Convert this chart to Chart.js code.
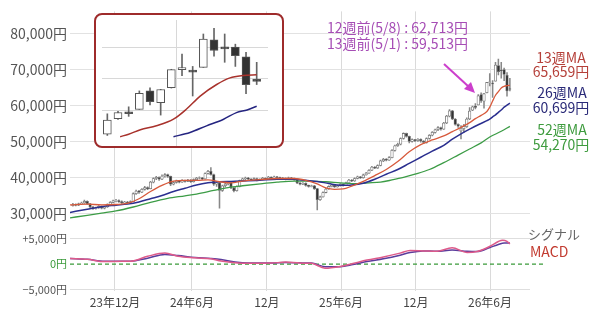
<!DOCTYPE html>
<html lang="ja">
<head>
<meta charset="utf-8">
<script src="https://cdn.jsdelivr.net/npm/chart.js@4.4.1/dist/chart.umd.min.js"></script>
<style>
html, body { margin: 0; padding: 0; background: #fff; }
#wrap { position: relative; width: 600px; height: 323px; overflow: hidden;
        font-family: "Noto Sans CJK JP", "Noto Sans", sans-serif; }
#main { position: absolute; left: 0; top: 0; }
#insetBox { position: absolute; left: 94px; top: 13px; width: 190px; height: 135px;
            box-sizing: border-box; border: 2px solid #9e2b2b; border-radius: 8px; background: #fff; }
#insetCv { position: absolute; left: 102px; top: 20px; }
.lbl { position: absolute; transform: translate(-50%, -50%); white-space: nowrap;
       font-size: 14px; line-height: 1; }
.note { position: absolute; white-space: nowrap; font-size: 14px; line-height: 1;
        color: #a64db5; transform: translateY(-50%); }
.side { position: absolute; white-space: nowrap; line-height: 1; transform: translateY(-50%); }
#arrow { position: absolute; left: 0; top: 0; }
</style>
</head>
<body>
<div id="wrap">
  <canvas id="main" width="600" height="323"></canvas>
  <div id="insetBox"></div>
  <canvas id="insetCv" width="166" height="126"></canvas>

  <div class="note" style="left:327px;top:27px">12週前(5/8) : 62,713円</div>
  <div class="note" style="left:327px;top:43px">13週前(5/1) : 59,513円</div>
  <svg id="arrow" width="600" height="323">
    <line x1="444" y1="64" x2="469" y2="87" stroke="#cc3fcc" stroke-width="2"/>
    <polygon points="475,93 464,89 471,82" fill="#cc3fcc"/>
  </svg>

  <div class="lbl" style="left:561px;top:57px;color:#b5403a">13週MA</div>
  <div class="lbl" style="left:561px;top:71px;color:#b5403a">65,659円</div>
  <div class="lbl" style="left:562px;top:92px;color:#2a2a78">26週MA</div>
  <div class="lbl" style="left:561px;top:107px;color:#2a2a78">60,699円</div>
  <div class="lbl" style="left:562px;top:129px;color:#3e9b3e">52週MA</div>
  <div class="lbl" style="left:561px;top:144px;color:#3e9b3e">54,270円</div>
  <div class="side" style="left:528px;top:233px;font-size:13px;color:#666">シグナル</div>
  <div class="side" style="left:530px;top:251px;font-size:14px;color:#c23b30">MACD</div>
</div>

<script>
// 週足ローソク + 13/26/52週MA + MACD。横軸は週番号(w)、1週 ≒ 2.9px。
(function () {
    "use strict";

    Chart.defaults.font.family = '"Noto Sans CJK JP", "Noto Sans", sans-serif';

    // 目盛り
    var MONTH_POS = [15.65, 42.4, 68.5, 94.3, 120.3, 146.1];
    var MONTH_LABELS = ["23年12月", "24年6月", "12月", "25年6月", "12月", "26年6月"];
    var PRICE_TICKS = [30000, 40000, 50000, 60000, 70000, 80000];
    var MACD_TICKS = [-5000, 0, 5000];
    var INSET_TICKS = [60000, 65000, 70000];
    var INSET_VLINE = [145.5];

    // 週足 (w = FIRST_WEEK + i)
    var FIRST_WEEK = 1;
    var OPEN = [
        32300, 32600, 32400, 32800, 33000, 33500, 32800, 31900, 31500, 31700,
        32100, 31600, 31900, 32600, 33200, 33600, 33700, 33400, 33100, 33300,
        33000, 33400, 35600, 36300, 36000, 36800, 37300, 37000, 38800, 39800,
        40100, 39600, 40500, 40900, 40400, 38200, 38700, 39100, 38800, 39300,
        39000, 39400, 38900, 39500, 39900, 40000, 39700, 41200, 41800, 40900,
        38200, 38600, 36500, 37800, 38300, 38700, 37200, 36400, 37600, 39200,
        39700, 39900, 39600, 39400, 39800, 39300, 39500, 39900, 39700, 40200,
        39800, 40300, 40100, 39700, 39900, 39600, 40000, 39800, 39500, 38600,
        38200, 38500, 37900, 37600, 37800, 37000, 33900, 34700, 35900, 36900,
        37600, 37900, 37500, 37800, 38200, 37900, 38600, 39400, 39100, 39800,
        40300, 40000, 40800, 41300, 42100, 43000, 42700, 43400, 44700, 45100,
        44900, 45600, 47600, 48900, 49300, 50900, 52300, 51500, 50100, 50600,
        50300, 50700, 50200, 49800, 50900, 51800, 52600, 53300, 53900, 53500,
        55200, 57100, 58600, 56300, 54800, 53000, 53600, 54200, 56300, 58750,
        59800, 60200, 63100, 61250, 63600, 66450, 66150, 66800, 71150, 69800,
        70000, 68450, 64700
    ];
    var HIGH = [
        32900, 32800, 33000, 33300, 33800, 33600, 32900, 32100, 31900, 32300,
        32200, 32100, 32800, 33400, 33800, 34000, 33900, 33600, 33500, 33500,
        33600, 35800, 36600, 36500, 37000, 37600, 37500, 39000, 40000, 40400,
        40300, 40800, 41200, 41000, 40500, 39000, 39400, 39300, 39500, 39400,
        39600, 39500, 39700, 40100, 40300, 40100, 41400, 42100, 42800, 41000,
        38900, 38800, 38000, 38500, 38900, 38800, 37400, 37800, 39400, 39900,
        40200, 40100, 39800, 40000, 39900, 39700, 40100, 40000, 40400, 40300,
        40500, 40400, 40200, 40100, 40000, 40200, 40100, 39900, 39600, 38700,
        38700, 38600, 38000, 38000, 37900, 37100, 34900, 36100, 37100, 37800,
        38100, 38000, 38000, 38400, 38300, 38800, 39600, 39500, 40000, 40500,
        40400, 41000, 41500, 42300, 43200, 43100, 43600, 44900, 45400, 45300,
        45900, 47800, 49100, 49600, 51100, 52500, 52400, 51600, 50800, 50700,
        50900, 50800, 50300, 51100, 52000, 52800, 53500, 54200, 54100, 55400,
        57300, 58900, 58700, 56400, 55000, 54500, 54800, 56600, 59500, 59900,
        60600, 63100, 63600, 63350, 66500, 68900, 66950, 72050, 72950, 72050,
        70450, 69150, 67600
    ];
    var LOW = [
        32100, 32200, 32300, 32600, 32900, 32600, 31700, 31200, 31300, 31500,
        31400, 31400, 31800, 32500, 33000, 33300, 33200, 32900, 32900, 32800,
        32900, 33300, 35400, 35700, 35900, 36600, 36700, 36900, 38600, 39500,
        39300, 39500, 40200, 40100, 37800, 38000, 38500, 38600, 38700, 38800,
        38900, 38700, 38800, 39300, 39700, 39500, 39600, 41000, 40700, 37900,
        37600, 31600, 36200, 37500, 38000, 37000, 36100, 36300, 37500, 39000,
        39500, 39400, 39200, 39300, 39100, 39200, 39400, 39500, 39600, 39600,
        39700, 39900, 39500, 39600, 39400, 39500, 39600, 39300, 38400, 38000,
        38100, 37700, 37400, 37500, 36800, 31100, 33700, 34600, 35800, 36800,
        37500, 37300, 37400, 37700, 37700, 37800, 38500, 38900, 39000, 39700,
        39800, 39900, 40700, 41200, 42000, 42500, 42600, 43300, 44500, 44700,
        44800, 45500, 47400, 48700, 49100, 50700, 51300, 49700, 49900, 50000,
        50100, 49900, 49500, 49600, 50700, 51600, 52400, 53100, 53200, 53400,
        55000, 56900, 56100, 54600, 54000, 50800, 52600, 54000, 56100, 58600,
        59100, 60200, 60900, 59300, 63550, 65500, 62300, 66800, 68550, 67600,
        66950, 62650, 64100
    ];
    var CLOSE = [
        32600, 32400, 32800, 33000, 33500, 32800, 31900, 31500, 31700, 32100,
        31600, 31900, 32600, 33200, 33600, 33700, 33400, 33100, 33300, 33000,
        33400, 35600, 36300, 36000, 36800, 37300, 37000, 38800, 39800, 40100,
        39600, 40500, 40900, 40400, 38200, 38700, 39100, 38800, 39300, 39000,
        39400, 38900, 39500, 39900, 40000, 39700, 41200, 41800, 40900, 38200,
        38600, 36500, 37800, 38300, 38700, 37200, 36400, 37600, 39200, 39700,
        39900, 39600, 39400, 39800, 39300, 39500, 39900, 39700, 40200, 39800,
        40300, 40100, 39700, 39900, 39600, 40000, 39800, 39500, 38600, 38200,
        38500, 37900, 37600, 37800, 37000, 33900, 34700, 35900, 36900, 37600,
        37900, 37500, 37800, 38200, 37900, 38600, 39400, 39100, 39800, 40300,
        40000, 40800, 41300, 42100, 43000, 42700, 43400, 44700, 45100, 44900,
        45600, 47600, 48900, 49300, 50900, 52300, 51500, 50100, 50600, 50300,
        50700, 50200, 49800, 50900, 51800, 52600, 53300, 53900, 53500, 55200,
        57100, 58600, 56300, 54800, 54300, 53600, 54200, 56300, 58500, 59700,
        59513, 62713, 61400, 63330, 66450, 66600, 66050, 71250, 69450, 69700,
        68650, 64100, 64600
    ];

    // 移動平均 [w, 円]
    var MA13 = [[0, 32500], [6, 32700], [11, 32500], [16, 32600], [20, 32900], [24, 34200],
        [28, 36200], [32, 37900], [36, 39100], [40, 39300], [44, 39300], [48, 39400],
        [52, 38900], [56, 38600], [60, 39100], [66, 39500], [72, 39800], [78, 39800],
        [82, 39300], [86, 38300], [89, 37200], [92, 36800], [95, 36900], [98, 37700],
        [102, 39000], [106, 40600], [110, 42300], [114, 44500], [118, 47200], [122, 49200],
        [126, 50500], [130, 51600], [133, 52800], [136, 54000], [139, 55300], [141, 56400],
        [143, 57300], [145, 58400], [146, 59600], [147, 61300], [148, 62900], [149, 63900],
        [150, 64900], [151, 65350], [152, 65550], [153, 65659]];
    var MA26 = [[0, 30400], [6, 31300], [11, 32000], [16, 32400], [20, 32700], [24, 33300],
        [28, 34200], [32, 35100], [36, 36200], [40, 37100], [44, 38000], [48, 38600],
        [52, 38900], [56, 39000], [60, 39100], [66, 39300], [72, 39600], [78, 39600],
        [82, 39300], [86, 39000], [90, 38400], [94, 37900], [98, 38000], [102, 38500],
        [106, 39600], [110, 41000], [114, 42300], [118, 44000], [122, 45700], [126, 47400],
        [130, 49000], [133, 50700], [136, 52200], [139, 53500], [142, 54700], [145, 55850],
        [146, 56250], [147, 56900], [148, 57450], [149, 58150], [150, 58800], [151, 59600],
        [152, 60150], [153, 60699]];
    var MA52 = [[0, 28900], [6, 29600], [11, 30200], [16, 30800], [22, 31900], [28, 33200],
        [34, 34300], [40, 35000], [44, 35500], [50, 36500], [55, 37300], [60, 37800],
        [67, 38400], [72, 38800], [78, 39100], [84, 39100], [89, 38900], [94, 38600],
        [98, 38400], [104, 38600], [108, 38800], [112, 39400], [116, 40100], [120, 41000],
        [125, 42300], [130, 44200], [135, 46300], [139, 48000], [143, 49700], [146, 51300],
        [150, 52900], [153, 54270]];

    // 拡大図の移動平均 (枠の下端で切れている)
    var INSET_MA13 = [[140.2, 55900], [141, 56300], [142.1, 56990], [143.6, 57610],
        [145.2, 58650], [146.4, 60210], [147.7, 62290], [149.25, 64110], [150.5, 65150],
        [151.75, 65520], [153, 65659]];
    var INSET_MA26 = [[145.2, 55900], [146.75, 56570], [148.3, 57610], [149.9, 58650],
        [151.1, 59690], [152.1, 60110], [153, 60699]];

    // MACD [w, 円]
    var MACD = [[0, 1100], [6, 950], [12, 500], [18, 560], [21, 560], [27, 1550], [33, 2200],
        [37.6, 1550], [43.5, 1250], [49, 1050], [52.5, 620], [57.4, 250], [62, 150], [70, 200],
        [75, 400], [80, 200], [84, 150], [88.7, -800], [94, -450], [98.4, 130], [103.3, 800],
        [109, 1430], [114.8, 2180], [118.3, 2680], [122.8, 2620], [127.7, 2550], [132.9, 3240],
        [138.1, 2300], [141.6, 2490], [146.1, 3550], [149, 4500], [150.5, 4750], [152, 4500],
        [153, 4000]];
    var SIGNAL = [[0, 1100], [6, 950], [12, 560], [18, 560], [21, 560], [27, 1180], [33, 1930],
        [37.6, 1700], [43.5, 1300], [49, 1100], [52.5, 900], [57.4, 400], [62, 200], [70, 200],
        [75, 300], [80, 250], [84, 200], [88.7, -500], [94, -500], [98.4, -100], [103.3, 500],
        [109, 1060], [114.8, 1780], [118.3, 2300], [122.8, 2620], [127.7, 2550], [132.9, 2800],
        [138.1, 2550], [141.6, 2490], [146.1, 3300], [149, 3900], [151, 4200], [153, 4200]];
    var ZERO_LINE = [[0, 0], [165, 0]];

    var yen = function (v) { return v.toLocaleString("en-US") + "円"; };
    var pts = function (arr) { return arr.map(function (p) { return { x: p[0], y: p[1] }; }); };
    var fixTicks = function (list) {
        return function (s) { s.ticks = list.map(function (v) { return { value: v }; }); };
    };

    var body = [], wick = [];
    for (var i = 0; i < CLOSE.length; i++) {
        body.push({ x: FIRST_WEEK + i, y: [OPEN[i], CLOSE[i]] });
        wick.push({ x: FIRST_WEEK + i, y: [LOW[i], HIGH[i]] });
    }
    var fill = function (c) { var r = c.raw; return r && r.y[1] < r.y[0] ? "#333" : "#fff"; };

    var line = function (data, color, width, axis) {
        return { type: "line", data: pts(data), yAxisID: axis || "y", borderColor: color,
                 borderWidth: width, pointRadius: 0, cubicInterpolationMode: "monotone", order: 0 };
    };

    new Chart(document.getElementById("main"), {
        type: "line",
        data: {
            datasets: [
                line(MA13, "#d75a3c", 1.3),
                line(MA26, "#2b2f8f", 1.5),
                line(MA52, "#3c9c46", 1.3),
                { type: "bar", data: body, yAxisID: "y", backgroundColor: fill, borderColor: "#777",
                  borderWidth: 0.8, borderSkipped: false, barThickness: 2.6, grouped: false, order: 1 },
                { type: "bar", data: wick, yAxisID: "y", backgroundColor: "#888",
                  barThickness: 0.9, grouped: false, order: 2 },
                line(MACD, "#dd5a8a", 1.5, "y2"),
                line(SIGNAL, "#5a3c9c", 1.5, "y2"),
                { type: "line", data: pts(ZERO_LINE), yAxisID: "y2", borderColor: "#3a9a3a",
                  borderWidth: 1.3, borderDash: [4, 3], pointRadius: 0, clip: false, order: 3 },
            ],
        },
        options: {
            responsive: false,
            animation: false,
            events: [],
            layout: { padding: { top: 1, right: 70, left: 0, bottom: 0 } },
            plugins: { legend: { display: false }, tooltip: { enabled: false } },
            scales: {
                x: { type: "linear", min: 0, max: 160, offset: false,
                     afterBuildTicks: fixTicks(MONTH_POS),
                     afterFit: function (s) { s.height = 32; },
                     ticks: { autoSkip: false, maxRotation: 0, padding: 4, color: "#444",
                              font: { size: 12 },
                              callback: function (v, i) { return MONTH_LABELS[i]; } },
                     grid: { color: "#dadada", drawTicks: false, offset: false },
                     border: { display: false } },
                y: { type: "linear", position: "left", stack: "panes", stackWeight: 225, weight: 2,
                     min: 25985, max: 86150,
                     afterBuildTicks: fixTicks(PRICE_TICKS),
                     afterFit: function (s) { s.width = 70; },
                     ticks: { padding: 3, color: "#555", font: { size: 14 }, callback: yen },
                     grid: { color: "#e2e2e2", drawTicks: false },
                     border: { display: false } },
                y2: { type: "linear", position: "left", stack: "panes", stackWeight: 65, weight: 1,
                      min: -5330, max: 7100,
                      afterBuildTicks: fixTicks(MACD_TICKS),
                      afterFit: function (s) { s.width = 70; },
                      ticks: { padding: 3, font: { size: 11 },
                               color: function (c) { return c.tick && c.tick.value === 0 ? "#3a9a3a" : "#555"; },
                               callback: function (v) {
                                   if (v === 0) return "0円";
                                   return (v > 0 ? "+" : "−") + yen(Math.abs(v));
                               } },
                      grid: { drawTicks: false,
                              color: function (c) { return c.tick && c.tick.value === 0 ? "rgba(0,0,0,0)" : "#dedede"; } },
                      border: { display: false } },
            },
        },
    });

    // 直近15週の拡大図
    new Chart(document.getElementById("insetCv"), {
        type: "line",
        data: {
            datasets: [
                line(INSET_MA13, "#a8322c", 1.5),
                line(INSET_MA26, "#242480", 1.5),
                { type: "bar", data: body, backgroundColor: fill, borderColor: "#555", borderWidth: 1,
                  borderSkipped: false, barThickness: 8, minBarLength: 2, grouped: false, order: 1 },
                { type: "bar", data: wick, backgroundColor: "#666", barThickness: 1,
                  grouped: false, order: 2 },
            ],
        },
        options: {
            responsive: false,
            animation: false,
            events: [],
            layout: { padding: 0 },
            plugins: { legend: { display: false }, tooltip: { enabled: false } },
            scales: {
                x: { type: "linear", min: 138.5, max: 154.06, offset: false,
                     afterBuildTicks: fixTicks(INSET_VLINE),
                     ticks: { display: false }, grid: { color: "#d8d8d8", drawTicks: false, offset: false },
                     border: { display: false } },
                y: { type: "linear", min: 54439, max: 74251,
                     afterBuildTicks: fixTicks(INSET_TICKS),
                     ticks: { display: false }, grid: { color: "#d8d8d8", drawTicks: false },
                     border: { display: false } },
            },
        },
    });
})();
</script>
</body>
</html>
